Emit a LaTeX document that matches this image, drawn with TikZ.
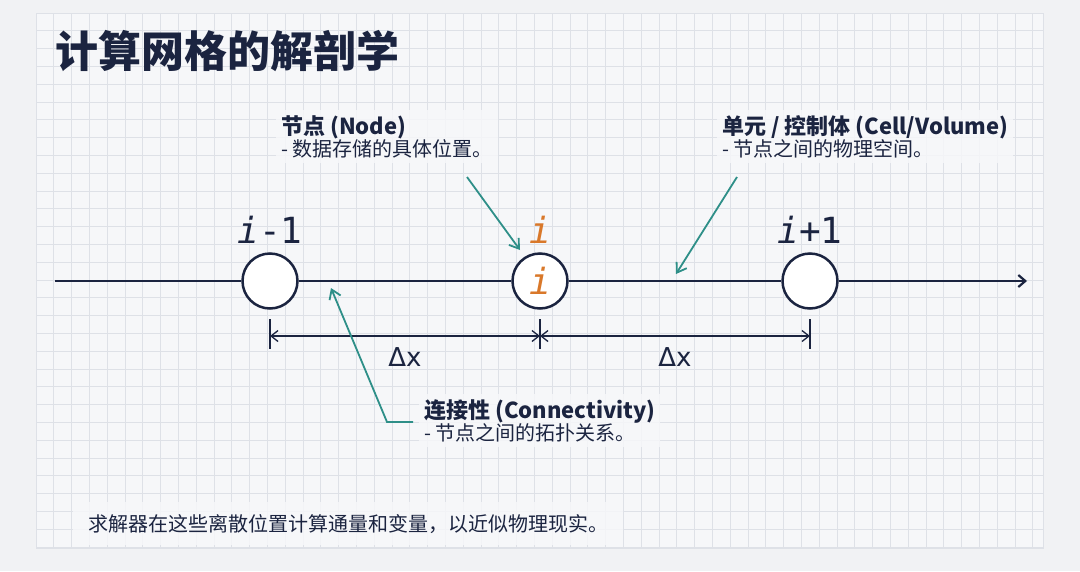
\documentclass[tikz,border=0pt]{standalone}
\usepackage{fontspec}
\setmainfont{Noto Sans CJK SC}
\newfontfamily\idxfont{DejaVu Sans Mono}
\newfontfamily\grkfont{DejaVu Sans}
\usepackage{xcolor}
\usepackage{tikz}
\usetikzlibrary{arrows.meta, positioning}

\definecolor{navy}{HTML}{1B2440}
\definecolor{tealc}{HTML}{2E8F88}
\definecolor{orng}{HTML}{D9782A}
\definecolor{paper}{HTML}{F1F2F4}
\definecolor{sheet}{HTML}{F6F7F9}
\definecolor{gridc}{HTML}{DEE1E7}

\begin{document}
\begin{tikzpicture}[
  x=1pt, y=-1pt,
  gnode/.style={circle, draw=navy, line width=2.5pt, fill=white, minimum size=55pt, inner sep=0pt},
  idx/.style={font=\fontsize{36}{36}\selectfont\idxfont, text=navy, inner sep=0pt},
  lbl/.style={anchor=north west, align=left, text=navy, fill=sheet, fill opacity=0.85, text opacity=1, inner sep=5pt},
  callout/.style={draw=tealc, line width=1.8pt, -{Straight Barb[length=9pt, width=12pt]}},
  dimln/.style={draw=navy, line width=1.3pt, {Straight Barb[length=7pt, width=11pt]}-{Straight Barb[length=7pt, width=11pt]}},
  axis/.style={draw=navy, line width=2.2pt}
]
  \useasboundingbox (0,0) rectangle (1080,571);
  \fill[paper] (0,0) rectangle (1080,571);
  \fill[sheet] (36,13) rectangle (1043,548);
  % grid paper
  \foreach \k in {0,...,56}
    \draw[gridc, line width=0.8pt] (36+\k*17.8,13) -- (36+\k*17.8,548);
  \foreach \k in {0,...,30}
    \draw[gridc, line width=0.8pt] (36,13+\k*17.8) -- (1043,13+\k*17.8);
  \draw[gridc, line width=0.8pt] (36,13) rectangle (1043,548);

  \node[anchor=base west, inner sep=0pt, text=navy, font=\fontsize{43}{43}\selectfont\bfseries] (title) at (55,67) {计算网格的解剖学};

  % grid points
  \node[gnode] (pm) at (270,281) {};
  \node[gnode] (pc) at (540,281) {\fontsize{36}{36}\selectfont\idxfont\itshape\color{orng}i};
  \node[gnode] (pp) at (810,281) {};
  \coordinate (axL) at (55,281);
  \coordinate (axR) at (1027,281);
  \draw[axis] (axL) -- (pm);
  \draw[axis] (pm) -- (pc);
  \draw[axis] (pc) -- (pp);
  \draw[axis, -{Straight Barb[length=7pt, width=12pt]}] (pp) -- (axR);

  \node[idx] (lm) at (270,230) {\textit{i}-1};
  \node[idx, text=orng] (lc) at (540,230) {\textit{i}};
  \node[idx] (lp) at (810,230) {\textit{i}+1};

  % spacing
  \draw[navy, line width=1.3pt] (270,319) -- (270,349);
  \draw[navy, line width=1.3pt] (540,319) -- (540,349);
  \draw[navy, line width=1.3pt] (810,319) -- (810,349);
  \coordinate (dm) at (270,336);
  \coordinate (dc) at (540,336);
  \coordinate (dp) at (810,336);
  \draw[dimln] (dm) -- (dc);
  \draw[dimln] (dc) -- (dp);
  \node[text=navy, font=\fontsize{26}{26}\selectfont\grkfont] (dx1) at (405,357) {Δx};
  \node[text=navy, font=\fontsize{26}{26}\selectfont\grkfont] (dx2) at (675,357) {Δx};

  % callouts
  \node[lbl] (lnode) at (276,110) {\fontsize{22}{31}\selectfont\bfseries 节点 (Node)\\
    \fontsize{20}{31}\selectfont\mdseries - 数据存储的具体位置。};
  \node[lbl] (lcell) at (717,110) {\fontsize{22}{31}\selectfont\bfseries 单元 / 控制体 (Cell/Volume)\\
    \fontsize{20}{31}\selectfont\mdseries - 节点之间的物理空间。};
  \node[lbl] (lconn) at (419,394) {\fontsize{22}{31}\selectfont\bfseries 连接性 (Connectivity)\\
    \fontsize{20}{31}\selectfont\mdseries - 节点之间的拓扑关系。};

  \coordinate (nodeA) at (467,177);
  \coordinate (nodeB) at (520,250);
  \coordinate (cellA) at (737,177);
  \coordinate (cellB) at (676,274);
  \coordinate (connA) at (413,422);
  \coordinate (connK) at (387,422);
  \coordinate (connB) at (331,288);
  \draw[callout] (nodeA) -- (nodeB);
  \draw[callout] (cellA) -- (cellB);
  \draw[callout] (connA) -- (connK) -- (connB);

  \node[anchor=base west, text=navy, fill=sheet, fill opacity=0.85, text opacity=1, inner xsep=15pt, inner ysep=12pt,
    font=\fontsize{20}{20}\selectfont] (note) at (73,531) {求解器在这些离散位置计算通量和变量，以近似物理现实。};
\end{tikzpicture}
\end{document}
